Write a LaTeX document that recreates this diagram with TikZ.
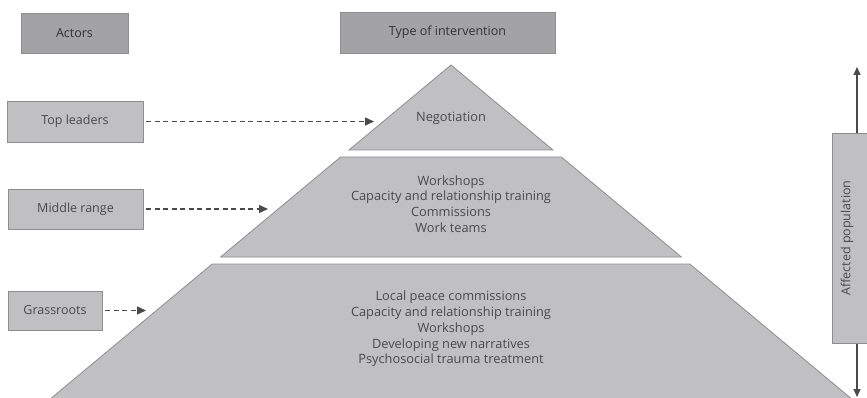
\documentclass[tikz,border=0pt]{standalone}
\usepackage{fontspec}
\setmainfont{Open Sans}
\definecolor{PYcolFill}{HTML}{c0c0c2}
\definecolor{PYcolHead}{HTML}{a3a3a6}
\definecolor{PYcolEdge}{HTML}{8e8e90}
\definecolor{PYcolText}{HTML}{4a4a4a}
\usetikzlibrary{arrows.meta}
\tikzset{
  actorbox/.style={draw=PYcolEdge,fill=PYcolFill,line width=0.8pt,text=PYcolText,font=\fontsize{12.5}{15}\selectfont},
  headbox/.style={actorbox,fill=PYcolHead,text=black!80},
  tier/.style={draw=PYcolEdge,fill=PYcolFill,line width=0.8pt,line join=miter},
  tiertext/.style={align=center,text=PYcolText,font=\fontsize{12.8}{15.8}\selectfont},
  link/.style={draw=PYcolText,line width=1.4pt,dash pattern=on 5pt off 3.5pt,-{Triangle[length=9pt,width=8pt]}},
  popline/.style={draw=PYcolText,line width=1.3pt,{Triangle[length=8pt,width=7pt]}-{Triangle[length=8pt,width=7pt]}}
}
\begin{document}
\begin{tikzpicture}[x=1pt, y=1pt, yscale=-1, inner sep=0pt, outer sep=0pt]
  \useasboundingbox (0,0) rectangle (867,398);
  % headers
  \node[headbox,minimum width=107pt,minimum height=40pt] (actors) at (74.5,33) {Actors};
  \node[headbox,minimum width=215pt,minimum height=41pt] (typeint) at (447.5,32.5) {Type of intervention};
  % pyramid
  \path[tier] (451,65) -- (553,150) -- (349,150) -- cycle;
  \path[tier] (340.6,157) -- (561.4,157) -- (681.4,257) -- (220.6,257) -- cycle;
  \path[tier] (212.2,264) -- (689.8,264) -- (856.6,403) -- (45.4,403) -- cycle;
  \node[tiertext] (negot) at (451,118) {Negotiation};
  \node[tiertext] (midint) at (451,204) {Workshops\\Capacity and relationship training\\Commissions\\Work teams};
  \node[tiertext] (grassint) at (451,329) {Local peace commissions\\Capacity and relationship training\\Workshops\\Developing new narratives\\Psychosocial trauma treatment};
  % actors
  \node[actorbox,minimum width=136pt,minimum height=41pt] (topl) at (75,121.5) {Top leaders};
  \node[actorbox,minimum width=135pt,minimum height=40pt] (midr) at (75.5,209) {Middle range};
  \node[actorbox,minimum width=94pt,minimum height=39pt] (grass) at (55,310.5) {Grassroots};
  \coordinate (topend) at (374,121.5);
  \coordinate (midend) at (268,209);
  \coordinate (grassend) at (146,310.5);
  \draw[link] (topl.east) ++(3,0) -- (topend);
  \draw[link] (midr.east) ++(3,0) -- (midend);
  \draw[link] (grass.east) ++(3,0) -- (grassend);
  % affected population
  \coordinate (popup) at (857,67);
  \coordinate (popdown) at (857,397);
  \draw[popline] (popup) -- (popdown);
  \node[actorbox,minimum width=35pt,minimum height=210pt] (affpop) at (849.5,238) {};
  \node[rotate=90,text=PYcolText,font=\fontsize{12.5}{15}\selectfont] (afflabel) at (847,238) {Affected population};
\end{tikzpicture}
\end{document}
